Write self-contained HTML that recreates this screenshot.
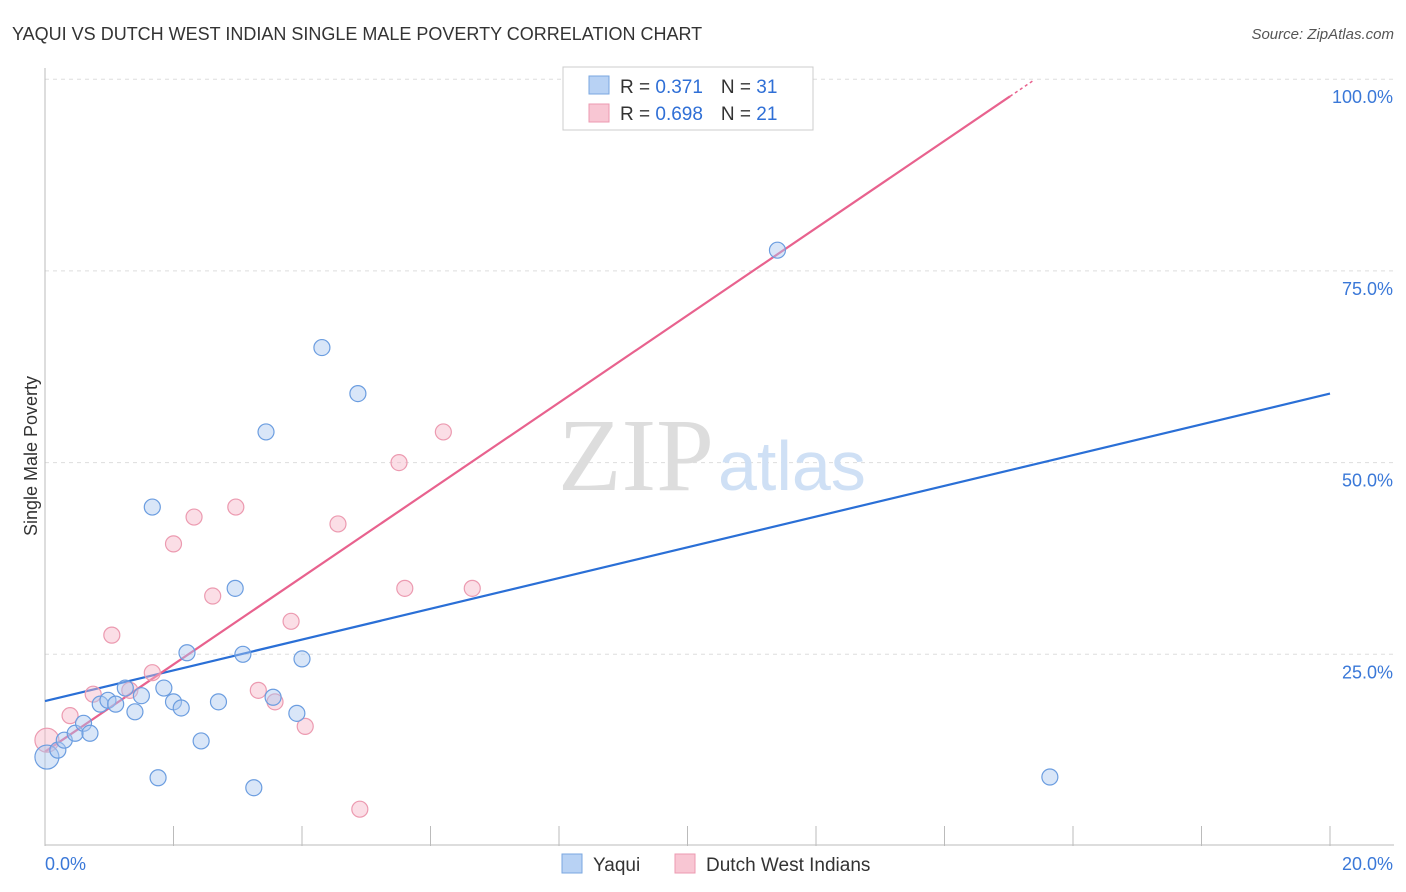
<!DOCTYPE html>
<html><head><meta charset="utf-8"><style>
body{margin:0;background:#fff;font-family:"Liberation Sans",sans-serif}
svg{display:block}
</style></head><body>
<svg width="1406" height="892" viewBox="0 0 1406 892">
<text x="12" y="40" font-size="18" fill="#333">YAQUI VS DUTCH WEST INDIAN SINGLE MALE POVERTY CORRELATION CHART</text>
<text x="1394" y="39" font-size="15" fill="#555" font-style="italic" text-anchor="end">Source: ZipAtlas.com</text>
<g id="grid"></g>
<text x="714" y="490" font-size="104" font-family="Liberation Serif,serif" fill="#ddd" text-anchor="end">ZIP</text>
<text x="718" y="490" font-size="70" fill="#cfe0f5">atlas</text>
<text x="37" y="456" font-size="18" fill="#333" text-anchor="middle" transform="rotate(-90 37 456)">Single Male Poverty</text>
<g id="lines"></g>
<g id="pts"></g>
<g>
<rect x="563" y="67" width="250" height="63" fill="#fff" stroke="#ccc"/>
<rect x="589" y="76" width="20" height="18" fill="#b8d2f4" stroke="#7aa7e0"/>
<rect x="589" y="104" width="20" height="18" fill="#f8c6d3" stroke="#ec9ab0"/>
<text x="620" y="93" font-size="19" fill="#333">R = <tspan fill="#2f6fd6">0.371</tspan><tspan dx="18">N = </tspan><tspan fill="#2f6fd6">31</tspan></text>
<text x="620" y="120" font-size="19" fill="#333">R = <tspan fill="#2f6fd6">0.698</tspan><tspan dx="18">N = </tspan><tspan fill="#2f6fd6">21</tspan></text>
</g>
<g>
<rect x="562" y="854" width="20" height="19" fill="#b8d2f4" stroke="#7aa7e0"/>
<text x="593" y="871" font-size="19" fill="#333">Yaqui</text>
<rect x="675" y="854" width="20" height="19" fill="#f8c6d3" stroke="#ec9ab0"/>
<text x="706" y="871" font-size="19" fill="#333">Dutch West Indians</text>
</g>
</svg>
<script>
const yTicks=[25,50,75,100];
const yTickLabels=["25.0%","50.0%","75.0%","100.0%"];
const xTickLabels=["0.0%","20.0%"];
const yaquiX=[0.03,0.2,0.3,0.47,0.6,0.7,0.86,0.98,1.1,1.25,1.4,1.5,1.67,1.76,1.85,2.0,2.12,2.21,2.43,2.7,2.96,3.08,3.25,3.44,3.55,3.92,4.0,4.31,4.87,11.4,15.64];
const yaquiY=[11.6,12.5,13.8,14.7,16,14.7,18.5,19,18.5,20.6,17.5,19.6,44.2,8.9,20.6,18.8,18,25.2,13.7,18.8,33.6,25,7.6,54,19.4,17.3,24.4,65,59,77.7,9];
const dutchX=[0.03,0.39,0.75,1.04,1.32,1.67,2.0,2.32,2.61,2.97,3.32,3.58,3.83,4.05,4.56,4.9,5.51,5.6,6.2,6.65,10.4];
const dutchY=[13.8,17,19.8,27.5,20.3,22.6,39.4,42.9,32.6,44.2,20.3,18.8,29.3,15.6,42,4.8,50,33.6,54,33.6,99.9];
const yaquiLine=[18.9,59];
const dutchLine=[12.3,5.69];
const NS="http://www.w3.org/2000/svg";
const X=v=>45+v*64.25, Y=v=>846-v*7.668;
function mk(t,a,p){const e=document.createElementNS(NS,t);for(const k in a)e.setAttribute(k,a[k]);p.appendChild(e);return e;}
const grid=document.getElementById('grid');
yTicks.forEach((t,i)=>{
 const l=mk('line',{x1:45,x2:1394,y1:Y(t),y2:Y(t),stroke:'#ddd','stroke-dasharray':'4 4'},grid);
 
 
 const tx=mk('text',{x:1393,y:Y(t)+24,'font-size':18,fill:'#3a78d8','text-anchor':'end'},grid);
 tx.textContent=yTickLabels[i];
 
 
});
mk('line',{x1:45,x2:45,y1:68,y2:846,stroke:'#bbb'},grid);
mk('line',{x1:45,x2:1394,y1:845,y2:845,stroke:'#bbb'},grid);
for(let i=0;i<=10;i++){const t=mk('line',{x1:X(i*2),x2:X(i*2),y1:826,y2:846,stroke:'#bbb'},grid);
 
 }
[[0,52,'start'],[20,1393,'end']].forEach((d,i)=>{const t=mk('text',{x:d[1]-(i?0:7),y:870,'font-size':18,fill:'#3a78d8','text-anchor':d[2]},grid);t.textContent=xTickLabels[i];
 
 });
const lines=document.getElementById('lines');
const bl=mk('line',{x1:X(0),y1:Y(yaquiLine[0]),x2:X(20),y2:Y(yaquiLine[1]),stroke:'#2a6fd6','stroke-width':2.2},lines);


const pl=mk('line',{x1:X(0),y1:Y(dutchLine[0]),x2:X(15.02),y2:Y(dutchLine[0]+dutchLine[1]*15.02),stroke:'#e8628e','stroke-width':2.2},lines);


const pd=mk('line',{x1:X(15.02),y1:Y(dutchLine[0]+dutchLine[1]*15.02),x2:X(15.4),y2:Y(dutchLine[0]+dutchLine[1]*15.4),stroke:'#e8628e','stroke-width':1.5,'stroke-dasharray':'3 3'},lines);


const pts=document.getElementById('pts');
dutchX.forEach((x,i)=>{const c=mk('circle',{cx:X(x),cy:Y(dutchY[i]),r:i==0?12:8,fill:'rgba(246,182,200,0.45)',stroke:'#ec9ab0','stroke-width':1.2},pts);
 
 });
yaquiX.forEach((x,i)=>{const c=mk('circle',{cx:X(x),cy:Y(yaquiY[i]),r:i==0?12:8,fill:'rgba(170,200,240,0.45)',stroke:'#6b9de0','stroke-width':1.2},pts);
 
 });
</script>
</body></html>
